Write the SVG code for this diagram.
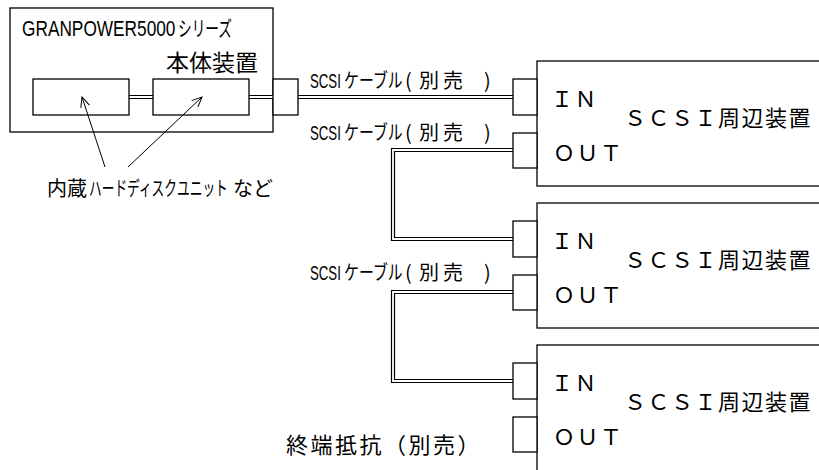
<svg xmlns="http://www.w3.org/2000/svg" width="819" height="470" viewBox="0 0 819 470">
<defs>
<style>
.box{fill:#fff;stroke:#000;stroke-width:1.3}
.co{fill:none;stroke:#000;stroke-width:4.2}
.ci{fill:none;stroke:#fff;stroke-width:1.8}
.ln{fill:none;stroke:#000;stroke-width:1}
.lat{font-family:"Liberation Sans","Noto Sans CJK JP",sans-serif;fill:#000}
.jp{font-family:"Noto Sans CJK JP","Liberation Sans",sans-serif;fill:#000}
.dev{font-family:"Noto Sans CJK JP",sans-serif;font-size:22px;letter-spacing:1.5px;fill:#000}
</style>
<marker id="arr" viewBox="0 0 12 10" refX="11" refY="5" markerWidth="12" markerHeight="10" markerUnits="userSpaceOnUse" orient="auto">
<path d="M1,0.5 L11,5 L1,9.5" fill="none" stroke="#000" stroke-width="1"/>
</marker>
</defs>
<rect width="819" height="470" fill="#fff"/>

<g id="host">
<rect class="box" x="10" y="8" width="263" height="124"/>
<text class="lat" transform="translate(22,36) scale(0.785,1)" font-size="22">GRANPOWER5000</text>
<text class="jp" transform="translate(178,36) scale(0.65,1)" font-size="21">シリーズ</text>
<text class="jp" x="166" y="71" font-size="23">本体装置</text>
</g>

<g id="connectors">
<path class="co" d="M129,97 H153 M249,97 H274 M298,97 H513 M513,150 H393 V239 H513 M513,292 H393 V381 H513"/>
<path class="ci" d="M129,97 H153 M249,97 H274 M298,97 H513 M513,150 H393 V239 H513 M513,292 H393 V381 H513"/>
</g>

<g id="hdd1"><rect class="box" x="33" y="79" width="96" height="36"/></g>
<g id="hdd2"><rect class="box" x="153" y="79" width="96" height="36"/></g>
<g id="host-port"><rect class="box" x="273" y="79" width="25" height="36"/></g>

<g id="pointers">
<line class="ln" x1="105" y1="167" x2="82" y2="97" marker-end="url(#arr)"/>
<line class="ln" x1="128" y1="167" x2="202" y2="97" marker-end="url(#arr)"/>
</g>

<g id="hdd-label">
<text class="jp" x="47" y="196" font-size="20">内蔵</text>
<text class="jp" transform="translate(89,196) scale(0.635,1)" font-size="20">ハードディスクユニット</text>
<text class="jp" x="233" y="196" font-size="20">など</text>
</g>

<g id="cable1-label">
<text class="lat" transform="translate(310,88) scale(0.63,1)" font-size="21">SCSI</text>
<text class="jp" transform="translate(344,88) scale(0.745,1)" font-size="20">ケーブル</text>
<text class="jp" y="88" font-size="20" x="405 419 443 484">(別売)</text>
</g>
<g id="cable2-label">
<text class="lat" transform="translate(310,140) scale(0.63,1)" font-size="21">SCSI</text>
<text class="jp" transform="translate(344,140) scale(0.745,1)" font-size="20">ケーブル</text>
<text class="jp" y="140" font-size="20" x="405 419 443 484">(別売)</text>
</g>
<g id="cable3-label">
<text class="lat" transform="translate(310,280) scale(0.63,1)" font-size="21">SCSI</text>
<text class="jp" transform="translate(344,280) scale(0.745,1)" font-size="20">ケーブル</text>
<text class="jp" y="280" font-size="20" x="405 419 443 484">(別売)</text>
</g>

<g id="device1">
<rect class="box" x="537" y="61" width="300" height="125"/>
<rect class="box" x="513" y="79" width="24" height="36"/>
<rect class="box" x="513" y="133" width="24" height="35"/>
<text class="dev" x="551" y="107">ＩＮ</text>
<text class="dev" x="553" y="161">ＯＵＴ</text>
<text class="dev" x="624" y="126">ＳＣＳＩ周辺装置</text>
</g>

<g id="device2">
<rect class="box" x="537" y="203" width="300" height="125"/>
<rect class="box" x="513" y="221" width="24" height="36"/>
<rect class="box" x="513" y="275" width="24" height="35"/>
<text class="dev" x="551" y="249">ＩＮ</text>
<text class="dev" x="553" y="303">ＯＵＴ</text>
<text class="dev" x="624" y="268">ＳＣＳＩ周辺装置</text>
</g>

<g id="device3">
<rect class="box" x="537" y="345" width="300" height="140"/>
<rect class="box" x="513" y="363" width="24" height="36"/>
<rect class="box" x="513" y="417" width="24" height="35"/>
<text class="dev" x="551" y="391">ＩＮ</text>
<text class="dev" x="553" y="445">ＯＵＴ</text>
<text class="dev" x="624" y="410">ＳＣＳＩ周辺装置</text>
</g>

<g id="terminator-label">
<text class="jp" x="286" y="453" font-size="22" letter-spacing="2.5">終端抵抗（別売）</text>
</g>
</svg>
